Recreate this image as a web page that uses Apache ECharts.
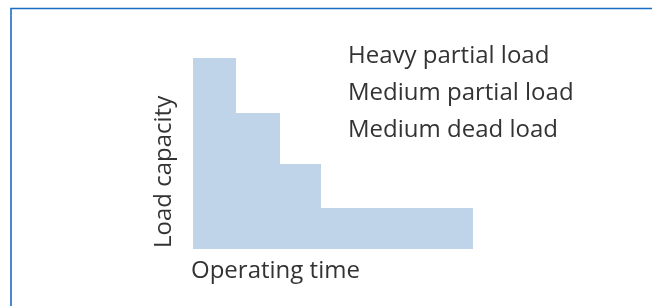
<!DOCTYPE html>
<html>
<head>
<meta charset="utf-8">
<script src="https://cdn.jsdelivr.net/npm/echarts@6/dist/echarts.min.js"></script>
<style>
	html, body { margin: 0; padding: 0; background: #fff; }
	#chart { width: 652px; height: 306px; }
</style>
</head>
<body>
<div id="chart"></div>
<script>
	// step profile: operating time where each level starts, and the load capacity at that level
	var timeSteps = [0, 43, 87, 128, 280];
	var capacity = [191, 136, 85, 41, 41];
	var loadTypes = ['Heavy partial load', 'Medium partial load', 'Medium dead load'];
	var xTitle = 'Operating time';
	var yTitle = 'Load capacity';

	var fontColor = '#333';
	var font = '24px "Open Sans", sans-serif';

	var myChart = echarts.init(document.getElementById('chart'));

	var labels = loadTypes.map(function (t, i) {
		return {
			type: 'text',
			left: 348,
			top: 44 + i * 37,
			style: { text: t, fill: fontColor, font: font }
		};
	});

	var option = {
		animation: false,
		grid: { left: 193, right: 179, top: 58, bottom: 57 },
		xAxis: {
			type: 'value',
			min: 0,
			max: 280,
			show: false
		},
		yAxis: {
			type: 'value',
			min: 0,
			max: 191,
			show: false
		},
		graphic: [
			{
				type: 'rect',
				shape: { x: 11, y: 8.5, width: 700, height: 400 },
				style: { fill: 'none', stroke: '#1b6cc4', lineWidth: 1.6 }
			},
			{
				type: 'text',
				left: 191,
				top: 259,
				style: { text: xTitle, fill: fontColor, font: font }
			},
			{
				type: 'text',
				x: 152,
				y: 248,
				rotation: Math.PI / 2,
				style: { text: yTitle, fill: fontColor, font: font, textAlign: 'left', textVerticalAlign: 'top' }
			}
		].concat(labels),
		series: [{
			type: 'line',
			step: 'end',
			symbol: 'none',
			lineStyle: { width: 0 },
			areaStyle: { color: '#c0d4e9', opacity: 1 },
			data: timeSteps.map(function (t, i) { return [t, capacity[i]]; })
		}]
	};

	myChart.setOption(option);
</script>
</body>
</html>
